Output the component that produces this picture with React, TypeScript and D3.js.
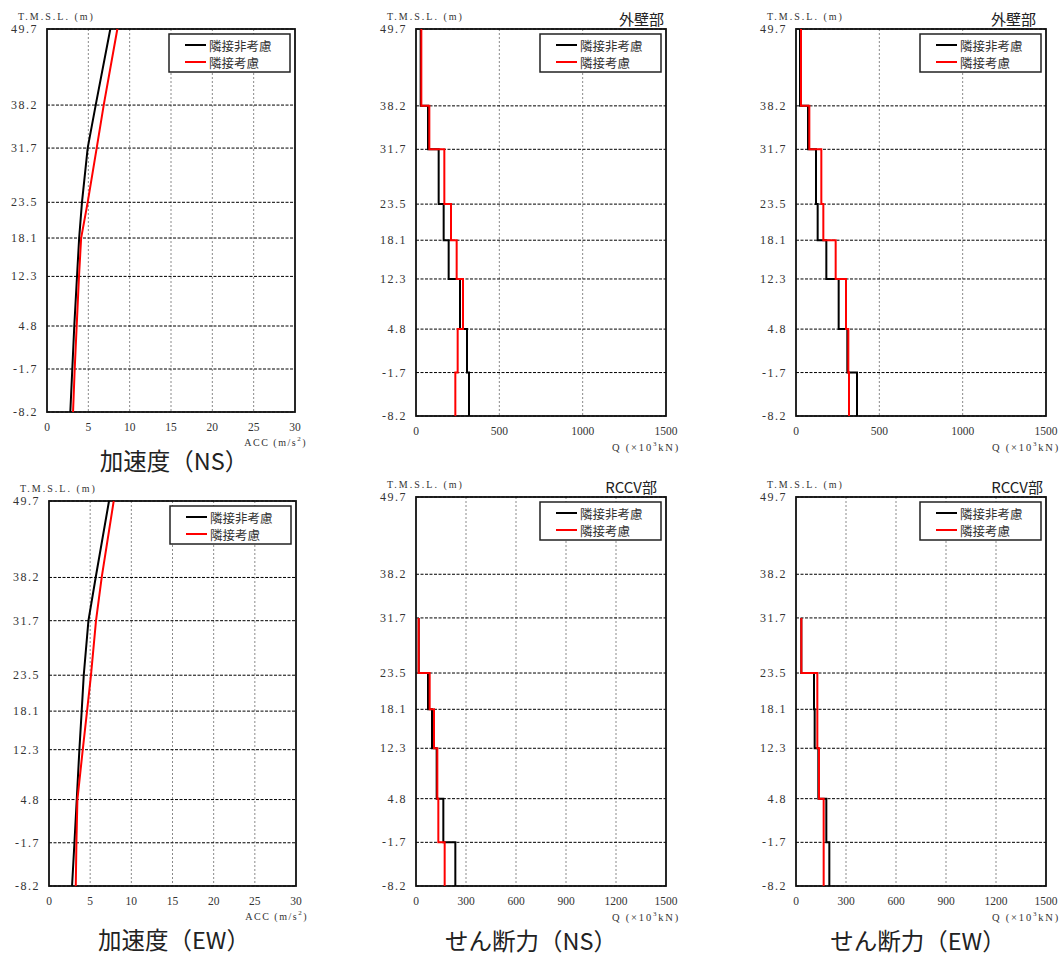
import React from "react";
import * as d3 from "d3";

// ---------- DATA ----------
const elevations = [49.7, 38.2, 31.7, 23.5, 18.1, 12.3, 4.8, -1.7, -8.2];
const elevationLabels = ["49.7", "38.2", "31.7", "23.5", "18.1", "12.3", "4.8", "-1.7", "-8.2"];
const rccvElevations = [31.7, 23.5, 18.1, 12.3, 4.8, -1.7, -8.2];

const seriesNames = ["隣接非考慮", "隣接考慮"];
const seriesColors = ["#000000", "#ff0000"];

const accTicks = [0, 5, 10, 15, 20, 25, 30];
const outerTicks = [0, 500, 1000, 1500];
const rccvTicks = [0, 300, 600, 900, 1200, 1500];

// acceleration (m/s2) at each elevation
const accNS_nonAdj = [7.66, 5.89, 4.92, 4.23, 3.89, 3.63, 3.3, 3.06, 2.82];
const accNS_adj = [8.51, 6.86, 6.01, 4.92, 4.13, 3.87, 3.59, 3.35, 3.15];
const accEW_nonAdj = [7.29, 5.67, 4.79, 4.22, 3.97, 3.69, 3.37, 3.09, 2.8];
const accEW_adj = [7.86, 6.4, 5.71, 5.1, 4.62, 4.1, 3.45, 3.33, 3.25];

// shear (x10^3 kN) per story segment
const shearOuterNS_nonAdj = [28, 72, 136, 166, 196, 264, 306, 318];
const shearOuterNS_adj = [32, 80, 170, 210, 244, 282, 250, 236];
const shearOuterEW_nonAdj = [24, 72, 120, 130, 182, 256, 308, 366];
const shearOuterEW_adj = [30, 80, 152, 164, 238, 300, 314, 318];
const shearRccvNS_nonAdj = [16, 72, 96, 124, 164, 236];
const shearRccvNS_adj = [16, 82, 108, 128, 134, 172];
const shearRccvEW_nonAdj = [32, 108, 112, 134, 182, 200];
const shearRccvEW_adj = [32, 128, 128, 138, 166, 166];

// ---------- LAYOUT ----------
type Series = { kind: "line" | "step"; elev: number[]; values: number[] };
type PanelCfg = {
  x0: number; x1: number; y0: number; y1: number;
  xMax: number; ticks: number[];
  xLabel: "acc" | "q";
  subtitle?: string; subRight?: number;
  title?: string; titleX?: number; titleY?: number;
  series: Series[];
};

const panels: PanelCfg[] = [
  {
    x0: 47, x1: 295, y0: 29, y1: 412, xMax: 30, ticks: accTicks, xLabel: "acc",
    title: "加速度（NS）", titleX: 174, titleY: 460,
    series: [
      { kind: "line", elev: elevations, values: accNS_nonAdj },
      { kind: "line", elev: elevations, values: accNS_adj },
    ],
  },
  {
    x0: 416, x1: 666, y0: 29, y1: 416, xMax: 1500, ticks: outerTicks, xLabel: "q",
    subtitle: "外壁部", subRight: 664,
    series: [
      { kind: "step", elev: elevations, values: shearOuterNS_nonAdj },
      { kind: "step", elev: elevations, values: shearOuterNS_adj },
    ],
  },
  {
    x0: 796, x1: 1046, y0: 29, y1: 416, xMax: 1500, ticks: outerTicks, xLabel: "q",
    subtitle: "外壁部", subRight: 1036,
    series: [
      { kind: "step", elev: elevations, values: shearOuterEW_nonAdj },
      { kind: "step", elev: elevations, values: shearOuterEW_adj },
    ],
  },
  {
    x0: 49, x1: 296, y0: 501, y1: 886, xMax: 30, ticks: accTicks, xLabel: "acc",
    title: "加速度（EW）", titleX: 174, titleY: 939,
    series: [
      { kind: "line", elev: elevations, values: accEW_nonAdj },
      { kind: "line", elev: elevations, values: accEW_adj },
    ],
  },
  {
    x0: 416, x1: 666, y0: 497, y1: 886, xMax: 1500, ticks: rccvTicks, xLabel: "q",
    subtitle: "RCCV部", subRight: 657,
    title: "せん断力（NS）", titleX: 531, titleY: 940,
    series: [
      { kind: "step", elev: rccvElevations, values: shearRccvNS_nonAdj },
      { kind: "step", elev: rccvElevations, values: shearRccvNS_adj },
    ],
  },
  {
    x0: 796, x1: 1046, y0: 497, y1: 886, xMax: 1500, ticks: rccvTicks, xLabel: "q",
    subtitle: "RCCV部", subRight: 1043,
    title: "せん断力（EW）", titleX: 918, titleY: 940,
    series: [
      { kind: "step", elev: rccvElevations, values: shearRccvEW_nonAdj },
      { kind: "step", elev: rccvElevations, values: shearRccvEW_adj },
    ],
  },
];

const SERIF = "'Liberation Serif', 'DejaVu Serif', serif";
const CJK = "'Noto Sans CJK JP', 'Noto Sans', sans-serif";

function Panel({ p }: { p: PanelCfg }) {
  const x = d3.scaleLinear().domain([0, p.xMax]).range([p.x0, p.x1]);
  const y = d3.scaleLinear().domain([-8.2, 49.7]).range([p.y1, p.y0]);
  const line = d3.line<[number, number]>().x((d) => x(d[0])).y((d) => y(d[1]));

  const pathFor = (s: Series) => {
    const pts: [number, number][] = [];
    if (s.kind === "line") {
      s.values.forEach((v, i) => pts.push([v, s.elev[i]]));
    } else {
      s.values.forEach((v, i) => {
        pts.push([v, s.elev[i]]);
        pts.push([v, s.elev[i + 1]]);
      });
    }
    return line(pts) || "";
  };

  const lw = 121, lh = 38;
  const lx = p.x1 - 5 - lw;
  const ly = p.y0 + 5;

  return (
    <g>
      {/* vertical grid */}
      {p.ticks.slice(1, -1).map((t) => (
        <line key={"v" + t} x1={x(t)} x2={x(t)} y1={p.y0} y2={p.y1}
          stroke="#8a8a8a" strokeWidth={1} strokeDasharray="2,2" />
      ))}
      {/* horizontal grid */}
      {elevations.map((e) => (
        <line key={"h" + e} x1={p.x0} x2={p.x1} y1={y(e)} y2={y(e)}
          stroke="#000" strokeWidth={1} strokeDasharray="3,1.5" />
      ))}
      {/* frame */}
      <rect x={p.x0} y={p.y0} width={p.x1 - p.x0} height={p.y1 - p.y0}
        fill="none" stroke="#111" strokeWidth={1.8} />
      {/* data */}
      {p.series.map((s, i) => (
        <path key={"s" + i} d={pathFor(s)} fill="none" stroke={seriesColors[i]}
          strokeWidth={2} strokeLinejoin="miter" />
      ))}
      {/* y labels */}
      {elevations.map((e, i) => (
        <text key={"yl" + e} x={p.x0 - 9} y={y(e)} textAnchor="end" dominantBaseline="central"
          fontFamily={SERIF} fontSize={12} fill="#333" letterSpacing={1.5}>
          {elevationLabels[i]}
        </text>
      ))}
      <text x={p.x0 - 29} y={p.y0 - 13} dominantBaseline="central" fontFamily={SERIF}
        fontSize={10} fill="#333" letterSpacing={2}>
        T.M.S.L. (m)
      </text>
      {/* x tick labels */}
      {p.ticks.map((t) => (
        <text key={"xl" + t} x={x(t)} y={p.y1 + 15} textAnchor="middle" dominantBaseline="central"
          fontFamily={SERIF} fontSize={11.5} fill="#333">
          {t}
        </text>
      ))}
      {p.xLabel === "acc" ? (
        <text x={p.x1 + 12} y={p.y1 + 30} textAnchor="end" dominantBaseline="central"
          fontFamily={SERIF} fontSize={10} fill="#333" letterSpacing={1.5}>
          ACC (m/s<tspan dy={-3} fontSize={7}>2</tspan><tspan dy={3}>)</tspan>
        </text>
      ) : (
        <text x={p.x1 + 14} y={p.y1 + 31} textAnchor="end" dominantBaseline="central"
          fontFamily={SERIF} fontSize={10.5} fill="#333" letterSpacing={1.8}>
          Q (×10<tspan dy={-3} fontSize={7}>3</tspan><tspan dy={3}>kN)</tspan>
        </text>
      )}
      {p.subtitle && (
        <text x={p.subRight} y={p.y0 - 11} textAnchor="end" dominantBaseline="central"
          fontFamily={CJK} fontSize={15} fill="#222">
          {p.subtitle}
        </text>
      )}
      {/* legend */}
      <rect x={lx} y={ly} width={lw} height={lh} fill="#fff" stroke="#222" strokeWidth={1.5} />
      {seriesNames.map((n, i) => (
        <g key={"lg" + i}>
          <line x1={lx + 16} x2={lx + 37} y1={ly + 11 + i * 17} y2={ly + 11 + i * 17}
            stroke={seriesColors[i]} strokeWidth={2} />
          <text x={lx + 40} y={ly + 11 + i * 17} dominantBaseline="central"
            fontFamily={CJK} fontSize={12.5} fill="#333">
            {n}
          </text>
        </g>
      ))}
      {p.title && (
        <text x={p.titleX} y={p.titleY} textAnchor="middle" dominantBaseline="central"
          fontFamily={CJK} fontSize={23.5} fill="#222">
          {p.title}
        </text>
      )}
    </g>
  );
}

export default function App() {
  return (
    <svg width={1059} height={958} style={{ position: "absolute", left: 0, top: 0, background: "#fff" }}>
      <rect x={0} y={0} width={1059} height={958} fill="#fff" />
      {panels.map((p, i) => (
        <Panel key={i} p={p} />
      ))}
    </svg>
  );
}
